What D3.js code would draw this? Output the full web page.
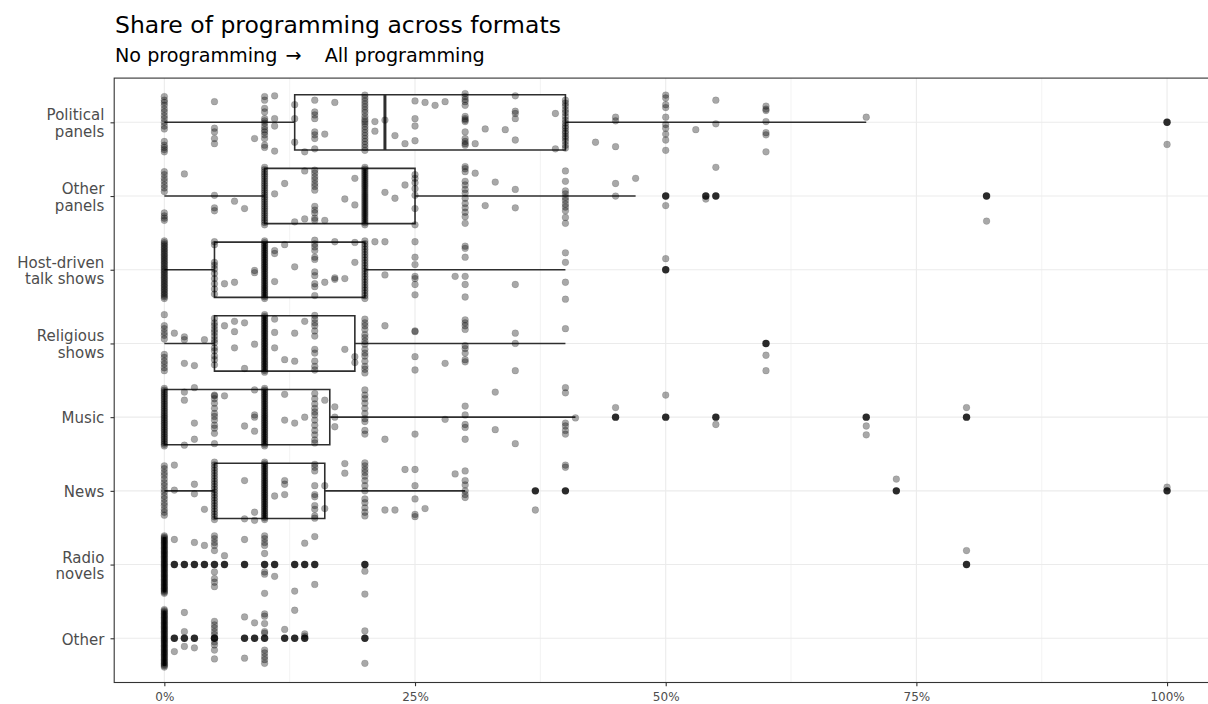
<!DOCTYPE html>
<html>
<head>
<meta charset="utf-8">
<script src="https://cdn.jsdelivr.net/npm/d3@7"></script>
<style>
  html, body { margin: 0; padding: 0; background: #fff; }
  svg { display: block; font-family: "DejaVu Sans", sans-serif; }
</style>
</head>
<body>
<svg id="chart" width="1208" height="704"></svg>
<script>
// ---- Data -----------------------------------------------------------------
const categories = ["Political panels", "Other panels", "Host-driven talk shows",
  "Religious shows", "Music", "News", "Radio novels", "Other"];
const categoryLabels = [["Political", "panels"], ["Other", "panels"], ["Host-driven", "talk shows"],
  ["Religious", "shows"], ["Music"], ["News"], ["Radio", "novels"], ["Other"]];

// Boxplot summaries (percent of programming)
const lowerWhisker = [0, 0, 0, 0, 0, 0, 0, 0];
const q1 = [13, 10, 5, 5, 0, 5, 0, 0];
const median = [22, 20, 10, 10, 10, 10, 0, 0];
const q3 = [40, 25, 20, 19, 16.5, 16, 0, 0];
const upperWhisker = [70, 47, 40, 40, 41, 30, 0, 0];

// Outlying stations per format
const outlierValues = [
  [100],
  [50, 54, 55, 82],
  [50],
  [60],
  [45, 50, 55, 70, 80],
  [37, 40, 73, 100],
  [1, 2, 3, 4, 5, 6, 8, 10, 11, 13, 14, 15, 20, 80],
  [1, 2, 3, 5, 8, 9, 10, 12, 13, 14, 20]
];

// Individual stations: [percent, vertical jitter offsets (share of a row)]
const politicalPanels = [
  [0, [-0.35, -0.3, -0.27, -0.23, -0.18, -0.14, -0.09, -0.05, 0, 0.05, 0.09, 0.26, 0.31, 0.34, 0.37, 0.4]],
  [5, [-0.28, 0.08, 0.13, 0.22, 0.29]],
  [9, [0.22]],
  [10, [-0.35, -0.3, -0.19, -0.14, -0.05, -0.02, 0.01, 0.06, 0.1, 0.13, 0.17, 0.22, 0.31, 0.34]],
  [11, [-0.36, -0.05, 0.05, 0.39]],
  [13, [-0.24, -0.05, 0.27]],
  [14, [0.4]],
  [15, [-0.3, -0.14, -0.1, -0.05, 0.13, 0.17, 0.22, 0.36]],
  [16, [0.16]],
  [17, [-0.27]],
  [20, [-0.37, -0.33, -0.29, -0.25, -0.21, -0.17, -0.13, -0.08, -0.04, -0.01, 0.02, 0.06, 0.1, 0.14, 0.18, 0.22, 0.26, 0.3, 0.34, 0.38]],
  [21, [-0.01, 0.12]],
  [22, [-0.03]],
  [23, [0.18]],
  [24, [0.29]],
  [25, [-0.29, -0.05, 0.05, 0.25]],
  [26, [-0.27]],
  [27, [-0.23]],
  [28, [-0.28]],
  [30, [-0.39, -0.35, -0.31, -0.28, -0.23, -0.08, -0.05, -0.03, -0.01, 0.13, 0.22, 0.26, 0.29, 0.31]],
  [31, [0.29]],
  [32, [0.09]],
  [34, [0.1]],
  [35, [-0.36, -0.15, -0.12, -0.05, 0.24]],
  [39, [-0.12, 0.36]],
  [40, [-0.3, -0.26, -0.22, -0.17, -0.13, -0.08, -0.03, 0.01, 0.05, 0.08, 0.12, 0.15, 0.19, 0.22, 0.26, 0.31, 0.35]],
  [43, [0.27]],
  [45, [-0.07, -0.02, 0.33]],
  [50, [-0.37, -0.33, -0.24, -0.2, -0.07, 0.03, 0.08, 0.16, 0.24, 0.38]],
  [53, [0.1]],
  [55, [-0.3, 0.02]],
  [60, [-0.22, -0.18, -0.16, -0.01, 0.14, 0.17, 0.4]],
  [70, [-0.07]],
  [100, [0.3]]
];
const otherPanels = [
  [0, [-0.33, -0.29, -0.24, -0.2, -0.15, -0.11, -0.06, 0.23, 0.27, 0.3, 0.33]],
  [2, [-0.3]],
  [5, [-0.01, 0.16, 0.2]],
  [7, [0.07]],
  [8, [0.17]],
  [11, [-0.03]],
  [12, [-0.17]],
  [13, [0.35]],
  [14, [-0.34, 0.31]],
  [15, [-0.35, -0.31, -0.26, -0.22, -0.17, -0.13, -0.08, 0.14, 0.19, 0.23, 0.3, 0.33]],
  [16, [0.33]],
  [18, [0.04]],
  [19, [-0.24, 0.12]],
  [22, [-0.05]],
  [23, [0.03]],
  [24, [-0.15]],
  [25, [-0.29, -0.24, -0.18, -0.1, -0.01, 0.17, 0.39]],
  [30, [-0.4, -0.37, -0.33, -0.2, -0.15, -0.09, -0.04, 0.03, 0.1, 0.16, 0.22, 0.28, 0.37]],
  [31, [-0.31]],
  [32, [0.13]],
  [33, [-0.19]],
  [35, [-0.09, 0.16]],
  [40, [-0.34, -0.2, -0.07, -0.03, 0.02, 0.06, 0.11, 0.15, 0.2, 0.29, 0.37]],
  [45, [-0.17, 0]],
  [47, [-0.24]],
  [50, [0.13]],
  [54, [0.04]],
  [55, [-0.39]],
  [82, [0.34]]
];
const hostDriven = [
  [5, [-0.38, -0.34, -0.1, -0.06, -0.01, 0.05, 0.12, 0.19, 0.26, 0.33]],
  [6, [0.19]],
  [7, [0.17]],
  [9, [0.01, 0.04]],
  [11, [-0.26, -0.22, 0.16]],
  [12, [-0.34]],
  [13, [-0.04]],
  [15, [-0.4, -0.35, -0.31, -0.26, -0.17, -0.14, 0.03, 0.08, 0.19, 0.23, 0.35]],
  [16, [0.17]],
  [17, [-0.38, 0.11, 0.13]],
  [18, [0.12]],
  [19, [-0.37, -0.1]],
  [21, [-0.38]],
  [22, [-0.38, 0.07]],
  [25, [-0.38, -0.17, -0.07, 0.09, 0.12, 0.2, 0.34]],
  [29, [0.09]],
  [30, [-0.32, -0.29, -0.17, 0.09, 0.2, 0.37]],
  [35, [0.2]],
  [40, [-0.23, -0.1, 0.17, 0.4]],
  [50, [-0.15]]
];
const religiousShows = [
  [0, [-0.39, -0.24, -0.2, -0.15, -0.11, -0.06, 0.15, 0.19, 0.24, 0.28, 0.33, 0.37]],
  [1, [-0.14]],
  [2, [-0.09, -0.05, 0.27]],
  [3, [0.3]],
  [4, [-0.05]],
  [5, [-0.34, -0.28, -0.24, -0.19, -0.15, -0.1, -0.05, -0.01, 0.06, 0.1, 0.17, 0.22, 0.29]],
  [6, [-0.24]],
  [7, [-0.3, -0.16, 0.06]],
  [8, [-0.28, 0.34]],
  [9, [0.01]],
  [11, [-0.33, -0.15, 0.06]],
  [12, [0.22]],
  [13, [-0.14, 0.24]],
  [14, [-0.3]],
  [15, [-0.38, -0.33, -0.28, -0.24, -0.17, -0.1, 0.08, 0.13, 0.24, 0.31, 0.36]],
  [18, [0.08]],
  [19, [0.18, 0.26]],
  [20, [-0.33, -0.28, -0.24, -0.19, -0.12, -0.08, -0.03, 0.01, 0.08, 0.13, 0.17, 0.24, 0.31, 0.35, 0.4]],
  [22, [-0.24]],
  [25, [-0.17, -0.16, 0.18, 0.36]],
  [28, [0.27]],
  [30, [-0.32, -0.28, -0.24, -0.19, 0.03, 0.07, 0.13, 0.22, 0.25]],
  [35, [-0.14, 0, 0.37]],
  [40, [-0.2]],
  [60, [0.16, 0.37]]
];
const music = [
  [2, [-0.34, -0.23, 0.38]],
  [3, [-0.4, 0.08, 0.3]],
  [5, [-0.3, -0.29, -0.25, -0.19, -0.12, -0.05, -0.01, 0.04, 0.11, 0.15, 0.22, 0.36]],
  [6, [-0.29]],
  [8, [0.12]],
  [9, [-0.37, -0.03, 0, 0.19]],
  [12, [-0.31, 0.04]],
  [13, [0.08]],
  [14, [0]],
  [15, [-0.32, -0.25, -0.18, -0.12, -0.07, -0.03, 0.04, 0.11, 0.18, 0.24, 0.31, 0.35]],
  [16, [-0.23]],
  [17, [-0.14, 0, 0.13]],
  [20, [-0.37, -0.3, -0.25, -0.19, -0.12, -0.05, 0.02, 0.06, 0.18, 0.23]],
  [22, [0.3]],
  [25, [0.23]],
  [28, [0.03]],
  [30, [-0.15, -0.03, 0.1, 0.14, 0.3]],
  [33, [-0.34, 0.17]],
  [35, [0.36]],
  [40, [-0.4, -0.33, 0.08, 0.12, 0.18, 0.23]],
  [41, [0.01]],
  [45, [-0.13]],
  [50, [-0.3]],
  [55, [0.1]],
  [70, [0.12, 0.24]],
  [80, [-0.13]]
];
const news = [
  [0, [-0.34, -0.3, -0.25, -0.21, -0.16, -0.11, -0.07, -0.02, 0.02, 0.07, 0.11, 0.16, 0.2, 0.25, 0.29, 0.33]],
  [1, [-0.35, -0.01]],
  [3, [-0.09, 0.04]],
  [4, [0.25]],
  [8, [-0.14, 0.38]],
  [9, [0.29, 0.4]],
  [11, [0.07]],
  [12, [-0.14, -0.09, 0.05]],
  [15, [-0.36, -0.32, -0.27, -0.07, 0.05, 0.08, 0.2, 0.25, 0.34, 0.37]],
  [16, [-0.07, 0.24]],
  [18, [-0.37, -0.24]],
  [20, [-0.38, -0.34, -0.29, -0.25, -0.2, -0.14, -0.07, 0, 0.11, 0.16, 0.23, 0.29, 0.34]],
  [22, [0.26]],
  [23, [0.26]],
  [24, [-0.29]],
  [25, [-0.29, -0.07, 0.11, 0.32, 0.35]],
  [26, [0.24]],
  [29, [-0.23]],
  [30, [-0.27, -0.14, -0.08, 0, 0.05, 0.09]],
  [37, [0.26]],
  [40, [-0.35, -0.32]],
  [73, [-0.16]],
  [100, [-0.05]]
];
const radioNovels = [
  [1, [-0.34]],
  [3, [-0.3]],
  [4, [-0.26]],
  [5, [-0.39, -0.35, -0.3, -0.26, -0.19, 0.1, 0.19, 0.24, 0.3]],
  [6, [-0.12]],
  [8, [-0.34]],
  [10, [-0.39, -0.35, -0.3, -0.26, -0.15, 0.1, 0.13, 0.39]],
  [11, [0.16]],
  [13, [0.36]],
  [14, [-0.29]],
  [15, [-0.38, 0.27]],
  [20, [0.09, 0.4]],
  [80, [-0.19]]
];
const otherFormats = [
  [1, [0.18]],
  [2, [-0.35, -0.09, 0.11]],
  [3, [0.13]],
  [5, [-0.23, -0.18, -0.14, -0.09, -0.05, 0, 0.05, 0.09, 0.16, 0.28]],
  [8, [-0.29, 0.27]],
  [9, [-0.21]],
  [10, [-0.33, -0.3, -0.2, -0.09, -0.07, 0.16, 0.2, 0.25, 0.29, 0.34]],
  [12, [-0.12]],
  [13, [-0.38]],
  [14, [-0.06, -0.03]],
  [20, [-0.1, 0.34]]
];
// Crowded values where stations pile up into a solid column: [percent, count]
const crowdedValues = [
  [],
  [[10, 26], [20, 30]],
  [[0, 36], [10, 34], [20, 22]],
  [[10, 36]],
  [[0, 34], [10, 34]],
  [[5, 22], [10, 34]],
  [[0, 46]],
  [[0, 46]]
];
const stationsByFormat = [politicalPanels, otherPanels, hostDriven, religiousShows,
  music, news, radioNovels, otherFormats];
const xTicks = [0, 25, 50, 75, 100];
const xMinorTicks = [12.5, 37.5, 62.5, 87.5];

// ---- Layout ---------------------------------------------------------------
const svg = d3.select("#chart");
const panel = { left: 114.2, top: 78.1, right: 1217.2, bottom: 682.5 };

const x = d3.scaleLinear().domain([-5, 105]).range([panel.left, panel.right]);
const y = d3.scalePoint().domain(categories).range([panel.top, panel.bottom]).padding(0.6);
const step = y.step();

// Titles
svg.append("text")
  .attr("x", 115).attr("y", 33.3)
  .attr("font-size", 23.5).attr("fill", "#000")
  .text("Share of programming across formats");
const sub = svg.append("text")
  .attr("x", 115).attr("y", 61.7)
  .attr("font-size", 19.2).attr("fill", "#000");
sub.append("tspan").text("No programming");
sub.append("tspan").attr("dx", "0.42em").text("\u2192");
sub.append("tspan").attr("dx", "1.2em").text("All programming");

// Panel clip
svg.append("defs").append("clipPath").attr("id", "panelClip")
  .append("rect")
  .attr("x", panel.left).attr("y", panel.top)
  .attr("width", panel.right - panel.left).attr("height", panel.bottom - panel.top);

const plot = svg.append("g").attr("clip-path", "url(#panelClip)");

// Grid
plot.append("g").selectAll("line").data(xMinorTicks).join("line")
  .attr("x1", d => x(d)).attr("x2", d => x(d))
  .attr("y1", panel.top).attr("y2", panel.bottom)
  .attr("stroke", "#f0f0f0").attr("stroke-width", 0.8);
plot.append("g").selectAll("line").data(xTicks).join("line")
  .attr("x1", d => x(d)).attr("x2", d => x(d))
  .attr("y1", panel.top).attr("y2", panel.bottom)
  .attr("stroke", "#ebebeb").attr("stroke-width", 1.1);
plot.append("g").selectAll("line").data(categories).join("line")
  .attr("x1", panel.left).attr("x2", panel.right)
  .attr("y1", d => y(d)).attr("y2", d => y(d))
  .attr("stroke", "#ebebeb").attr("stroke-width", 1.1);

// Boxplots
const boxes = categories.map((c, i) => ({
  c, lo: lowerWhisker[i], q1: q1[i], med: median[i], q3: q3[i], hi: upperWhisker[i]
}));
const boxHalf = 0.375 * step;
const boxG = plot.append("g");
const boxInk = "#2e2e2e";
boxes.forEach(b => {
  const cy = y(b.c);
  boxG.append("line")
    .attr("x1", x(b.lo)).attr("x2", x(b.q1)).attr("y1", cy).attr("y2", cy)
    .attr("stroke", boxInk).attr("stroke-width", 1.6);
  boxG.append("line")
    .attr("x1", x(b.q3)).attr("x2", x(b.hi)).attr("y1", cy).attr("y2", cy)
    .attr("stroke", boxInk).attr("stroke-width", 1.6);
  boxG.append("path")
    .attr("d", `M${x(b.q1)},${cy - boxHalf}H${x(b.q3)}V${cy + boxHalf}H${x(b.q1)}Z`)
    .attr("fill", "#fff").attr("stroke", boxInk).attr("stroke-width", 1.6);
  boxG.append("line")
    .attr("x1", x(b.med)).attr("x2", x(b.med))
    .attr("y1", cy - boxHalf).attr("y2", cy + boxHalf)
    .attr("stroke", boxInk).attr("stroke-width", 3);
});

// Outliers
const outliers = [];
outlierValues.forEach((vals, i) => vals.forEach(v => outliers.push({ c: categories[i], v })));
plot.append("g").selectAll("circle").data(outliers).join("circle")
  .attr("cx", d => x(d.v)).attr("cy", d => y(d.c))
  .attr("r", 3.7).attr("fill", "#2a2a2a");

// Jittered stations
const stations = [];
stationsByFormat.forEach((rows, i) => {
  rows.forEach(([v, offs]) => offs.forEach(o => stations.push({ c: categories[i], v, o })));
  crowdedValues[i].forEach(([v, n]) => {
    for (let k = 0; k < n; k++) {
      stations.push({ c: categories[i], v, o: -0.39 + 0.78 * k / (n - 1) });
    }
  });
});
plot.append("g").selectAll("circle").data(stations).join("circle")
  .attr("cx", d => x(d.v)).attr("cy", d => y(d.c) + d.o * step)
  .attr("r", 3.4)
  .attr("fill", "rgba(0,0,0,0.34)")
  .attr("stroke", "rgba(0,0,0,0.16)").attr("stroke-width", 0.7);

// Panel border
svg.append("rect")
  .attr("x", panel.left).attr("y", panel.top)
  .attr("width", panel.right - panel.left).attr("height", panel.bottom - panel.top)
  .attr("fill", "none").attr("stroke", "#333").attr("stroke-width", 1.1);

// X axis
const xAxis = svg.append("g")
  .attr("transform", `translate(0,${panel.bottom})`)
  .call(d3.axisBottom(x).tickValues(xTicks).tickFormat(d => d + "%").tickSize(3.7).tickPadding(5.8));
xAxis.select(".domain").remove();
xAxis.selectAll("line").attr("stroke", "#333").attr("stroke-width", 1.1);
xAxis.selectAll("text").attr("fill", "#4d4d4d").attr("font-size", 12)
  .attr("font-family", "DejaVu Sans");

// Y axis
const yAxis = svg.append("g")
  .attr("transform", `translate(${panel.left},0)`)
  .call(d3.axisLeft(y).tickSize(3.7).tickPadding(6));
yAxis.select(".domain").remove();
yAxis.selectAll("line").attr("stroke", "#333").attr("stroke-width", 1.1);
yAxis.selectAll("text").each(function (d) {
  const lines = categoryLabels[categories.indexOf(d)];
  const t = d3.select(this).text("")
    .attr("fill", "#4d4d4d").attr("font-size", 15).attr("font-family", "DejaVu Sans")
    .attr("dy", null).attr("x", -9.9)
    .attr("y", 5.8 - (lines.length - 1) * 8.3);
  lines.forEach((ln, k) => {
    t.append("tspan").attr("x", -9.9).attr("dy", k === 0 ? 0 : 16.6).text(ln);
  });
});
</script>
</body>
</html>
